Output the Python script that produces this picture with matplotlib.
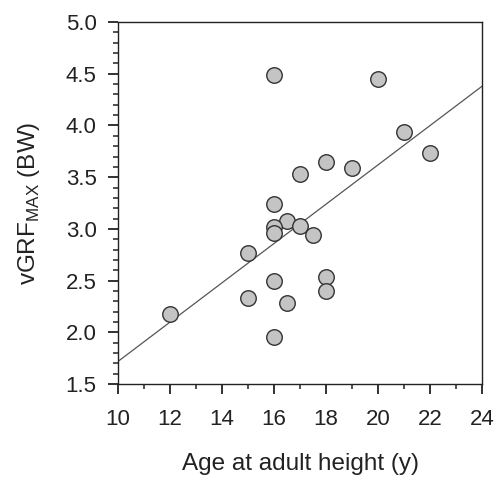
import numpy as np
from matplotlib import pyplot as plt
from matplotlib.ticker import MultipleLocator

plt.rcParams['font.family'] = ['Liberation Sans', 'DejaVu Sans']
plt.rcParams['mathtext.fontset'] = 'custom'
plt.rcParams['mathtext.rm'] = 'Liberation Sans'

# age at adult height (y) and peak vertical ground reaction force (BW)
age = [16, 20, 21, 22, 18, 19, 17, 16, 16.5, 16, 17, 16, 17.5,
       15, 16, 18, 18, 15, 16.5, 16, 12]
vgrf = [4.49, 4.45, 3.94, 3.73, 3.65, 3.59, 3.53, 3.24, 3.08, 3.02, 3.03, 2.96, 2.94,
        2.77, 2.50, 2.54, 2.40, 2.33, 2.28, 1.96, 2.18]

# regression line
slope = 0.19
intercept = -0.18

fig = plt.figure(figsize=(4.96, 4.79), dpi=100)
ax = fig.add_axes([0.238, 0.198, 0.734, 0.756])

xl = np.array([10, 24])
ax.plot(xl, intercept + slope * xl, color='#555555', lw=0.9, zorder=2)
ax.scatter(age, vgrf, s=125, facecolor='#c4c4c4', edgecolor='#333333',
           linewidths=1.0, zorder=3)

ax.set_xlim(10, 24)
ax.set_ylim(1.5, 5.0)
ax.xaxis.set_major_locator(MultipleLocator(2))
ax.xaxis.set_minor_locator(MultipleLocator(1))
ax.yaxis.set_major_locator(MultipleLocator(0.5))
ax.yaxis.set_minor_locator(MultipleLocator(0.1))
ax.yaxis.set_major_formatter(plt.FormatStrFormatter('%.1f'))
ax.tick_params(which='major', direction='out', length=7.5, width=1.3,
               labelsize=16, colors='#222222')
ax.tick_params(which='minor', direction='out', length=3.5, width=1.1, colors='#222222')
ax.tick_params(axis='x', which='major', pad=10.5)
ax.tick_params(axis='y', which='major', pad=8)
for s in ax.spines.values():
    s.set_linewidth(1.0)
    s.set_color('#222222')

ax.set_xlabel('Age at adult height (y)', fontsize=17.5, color='#222222', labelpad=16.5)
ax.set_ylabel(r'vGRF$_{\mathregular{MAX}}$ (BW)', fontsize=17.5, color='#222222', labelpad=17)

plt.savefig('out.png', dpi=100)
